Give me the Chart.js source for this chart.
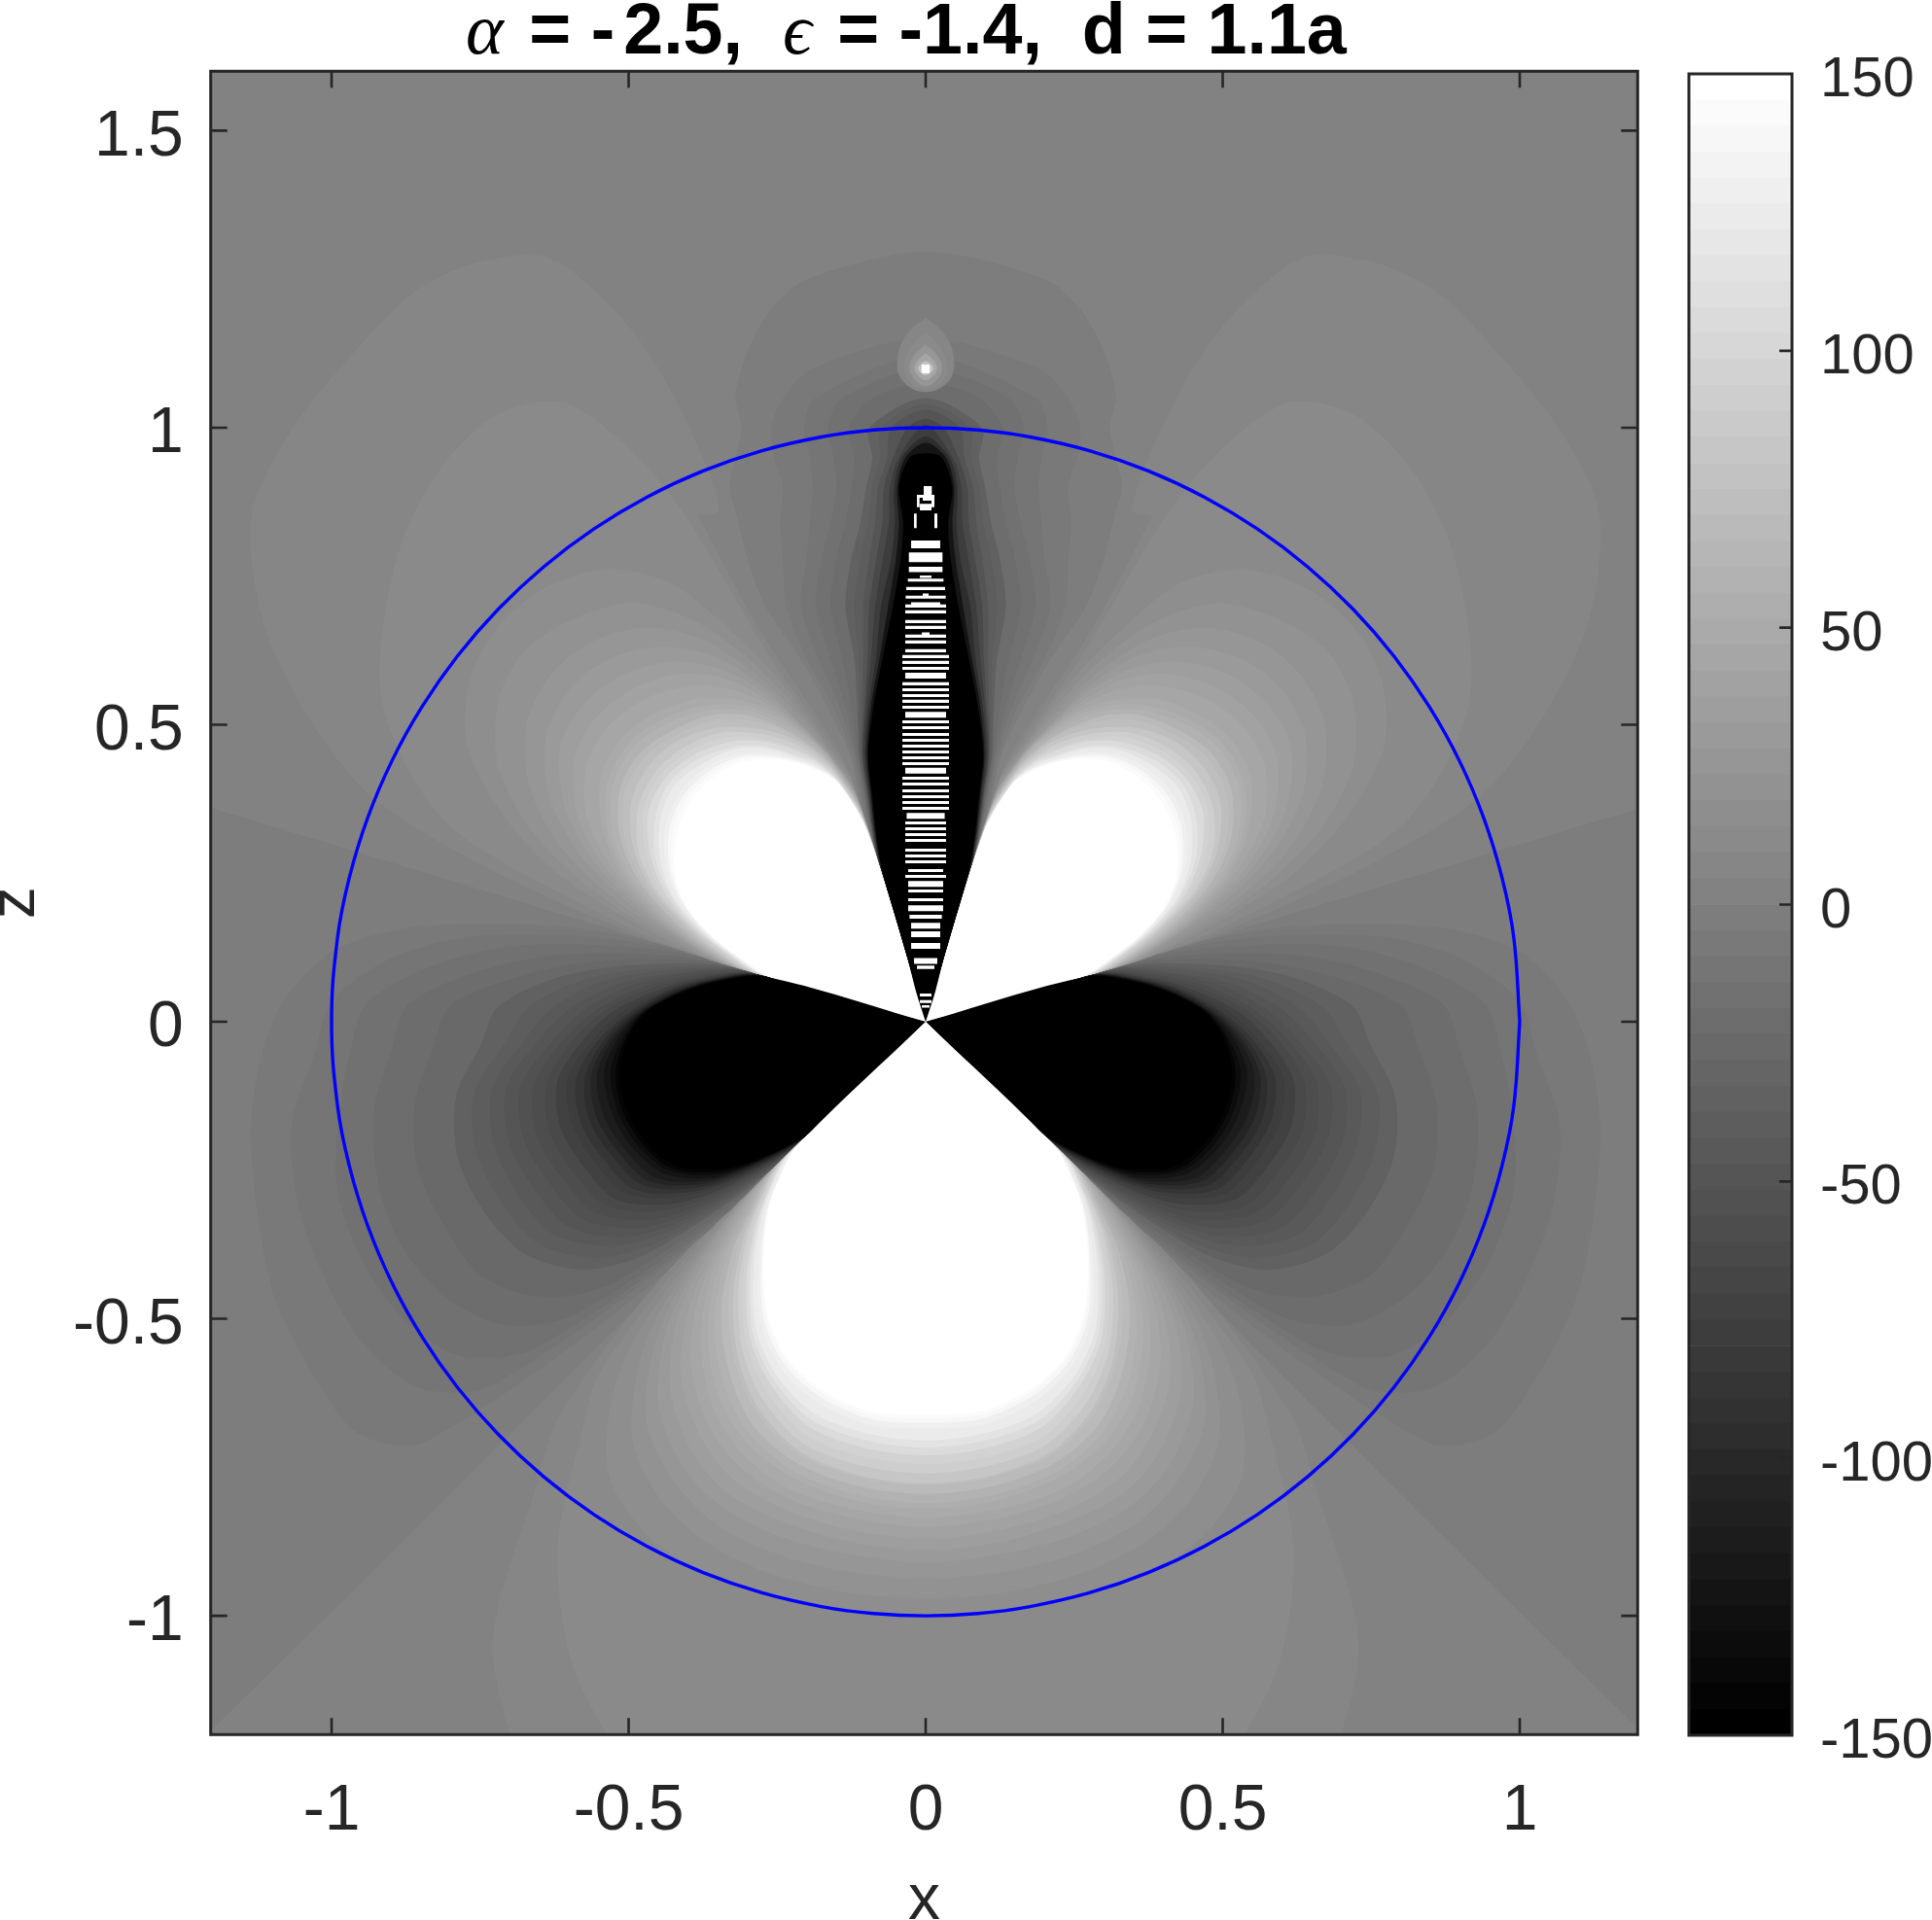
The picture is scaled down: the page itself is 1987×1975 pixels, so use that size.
<!DOCTYPE html>
<html>
<head>
<meta charset="utf-8">
<title>alpha = -2.5, epsilon = -1.4, d = 1.1a</title>
<script src="https://cdn.jsdelivr.net/npm/chart.js@4"></script>
<style>
    html, body { margin: 0; background: #fff; }
    canvas { position: absolute; left: 0; top: 0; }
    #plotTitle {
        position: absolute; left: 479px; top: -12px; white-space: pre; color: #000;
        font: bold 73.6px "Liberation Sans", Arial, sans-serif; line-height: 82px; z-index: 3;
    }
    #plotTitle i { font: italic 74px "Liberation Serif", "DejaVu Serif", serif; margin-right: 6px; }
    #plotTitle b { margin-right: 9px; }
</style>
</head>
<body>
<div id="plotTitle"><i>α</i> = <b>-</b>2.5,  <i>ϵ</i> = -1.4,  d = 1.1a</div>
<canvas id="fieldChart" width="1987" height="1975"></canvas>
<canvas id="barChart" width="1987" height="1975"></canvas>
<script>
// axis ticks
const xTicks = [-1, -0.5, 0, 0.5, 1];
const zTicks = [-1, -0.5, 0, 0.5, 1, 1.5];
const barTicks = [-150, -100, -50, 0, 50, 100, 150];
const backgroundLevel = 2;

// colorbar, lower edge of each of the 64 steps
const barLevels = [-150,-145.3,-140.6,-135.9,-131.25,-126.6,-121.9,-117.2,-112.5,-107.8,-103.1,-98.4,-93.75,-89.1,-84.4,-79.7,
    -75,-70.3,-65.6,-60.9,-56.25,-51.6,-46.9,-42.2,-37.5,-32.8,-28.1,-23.4,-18.75,-14.1,-9.4,-4.7,
    0,4.7,9.4,14.1,18.75,23.4,28.1,32.8,37.5,42.2,46.9,51.6,56.25,60.9,65.6,70.3,
    75,79.7,84.4,89.1,93.75,98.4,103.1,107.8,112.5,117.2,121.9,126.6,131.25,135.9,140.6,145.3];

// upper white lobe: radius of each contour read at these elevations (degrees)
const upperAngles = [16, 19, 22, 26, 31, 37, 43, 49, 55, 60, 64, 67, 70, 73];
const upperLevels = [7, 12, 17, 22, 26, 30, 34, 38, 43, 48, 53, 59, 66, 74, 82, 90, 98, 106, 114, 123, 130, 138, 144, 150];
const upperRadii = [
    [.42, .75, 1.0, 1.15, 1.30, 1.42, 1.46, 1.48, 1.50, 1.48, 1.42, .72, .56, .44],
    [.40, .62, .85, .97, 1.07, 1.14, 1.20, 1.24, 1.25, 1.20, 1.00, .66, .53, .43],
    [.38, .53, .67, .79, .90, .96, .98, .97, .93, .85, .72, .62, .51, .42],
    [.37, .50, .62, .74, .84, .90, .92, .90, .86, .78, .68, .59, .50, .41],
    [.36, .47, .58, .69, .78, .84, .86, .85, .81, .74, .65, .57, .49, .40],
    [.35, .45, .545, .65, .74, .80, .82, .81, .77, .71, .63, .55, .485, .395],
    [.345, .44, .525, .625, .71, .77, .785, .775, .74, .685, .615, .545, .48, .39],
    [.34, .435, .51, .605, .685, .74, .755, .745, .715, .665, .60, .54, .475, .39],
    [.335, .425, .50, .585, .665, .715, .73, .72, .69, .645, .59, .535, .475, .385],
    [.33, .42, .49, .57, .635, .685, .70, .69, .665, .625, .58, .53, .475, .38],
    [.325, .41, .48, .56, .625, .67, .685, .675, .65, .615, .57, .525, .47, .375],
    [.32, .405, .47, .55, .615, .66, .675, .665, .64, .605, .56, .52, .465, .37],
    [.315, .395, .46, .535, .60, .645, .66, .65, .63, .595, .55, .51, .46, .365],
    [.31, .385, .45, .525, .59, .635, .65, .64, .62, .585, .545, .505, .455, .36],
    [.305, .38, .44, .515, .575, .62, .635, .63, .605, .57, .535, .50, .45, .355],
    [.30, .37, .43, .505, .565, .605, .62, .615, .595, .56, .525, .49, .445, .35],
    [.295, .36, .425, .495, .55, .595, .61, .605, .585, .55, .515, .485, .44, .345],
    [.29, .355, .42, .485, .54, .585, .60, .595, .575, .545, .51, .48, .435, .34],
    [.285, .35, .41, .475, .53, .57, .59, .585, .565, .535, .50, .475, .43, .34],
    [.28, .345, .405, .47, .52, .56, .58, .575, .56, .53, .495, .47, .43, .335],
    [.277, .34, .40, .46, .51, .548, .566, .566, .55, .522, .49, .465, .428, .333],
    [.275, .337, .395, .455, .503, .54, .558, .558, .545, .517, .488, .463, .427, .332],
    [.272, .335, .392, .452, .498, .533, .55, .552, .54, .513, .485, .46, .426, .33],
    [.27, .33, .39, .45, .493, .525, .543, .545, .535, .51, .483, .458, .425, .33]
];
// outer cap of the upper lobe above the sphere: elevation, radius
const upperCapLevel = 7;
const upperCap = [[64, .95], [68, .93], [68, 1.15], [66.5, 1.30], [64, 1.42]];

// side dark lobe
const sideAngles = [15.7, 11, 7, 2, -3, -9, -16, -23, -30, -36, -40, -44];
const sideLevels = [-2.5, -7, -12, -16, -21, -26, -33, -38, -44, -49, -54, -60, -65, -72, -79, -88, -97, -106, -115, -124, -132, -141, -150];
const sideRadii = [
    [2.6, 2.6, 2.6, 2.6, 2.6, 2.6, 2.6, 2.6, 2.6, 2.6, 2.6, 2.6],
    [.55, .85, 1.0, 1.08, 1.12, 1.15, 1.17, 1.19, 1.19, 1.18, 1.10, .60],
    [.48, .76, .90, 1.0, 1.03, 1.08, 1.10, 1.10, 1.09, 1.05, .95, .50],
    [.42, .68, .82, .94, .97, 1.00, 1.03, 1.03, 1.01, .96, .85, .46],
    [.38, .60, .74, .87, .90, .94, .96, .96, .93, .87, .76, .42],
    [.36, .54, .67, .80, .83, .87, .89, .88, .86, .79, .68, .38],
    [.34, .50, .62, .72, .75, .80, .82, .81, .78, .71, .60, .35],
    [.33, .47, .58, .67, .71, .77, .787, .777, .75, .675, .565, .34],
    [.325, .45, .55, .63, .68, .74, .755, .745, .72, .64, .53, .33],
    [.32, .43, .52, .60, .655, .715, .73, .717, .692, .615, .505, .32],
    [.315, .42, .50, .575, .63, .69, .705, .69, .665, .59, .48, .31],
    [.31, .405, .48, .555, .612, .667, .682, .667, .642, .565, .46, .305],
    [.305, .395, .465, .54, .595, .645, .66, .645, .62, .54, .44, .30],
    [.302, .385, .45, .525, .577, .627, .64, .625, .60, .52, .425, .295],
    [.30, .38, .44, .51, .56, .61, .62, .605, .58, .50, .41, .29],
    [.297, .375, .435, .497, .55, .595, .605, .59, .565, .487, .40, .285],
    [.295, .37, .43, .49, .54, .58, .59, .575, .55, .475, .39, .28],
    [.292, .367, .425, .485, .532, .57, .577, .562, .537, .465, .38, .275],
    [.29, .365, .42, .48, .525, .56, .565, .55, .525, .455, .37, .27],
    [.287, .362, .417, .477, .518, .548, .55, .538, .51, .447, .365, .267],
    [.285, .36, .415, .475, .51, .537, .54, .528, .50, .437, .36, .265],
    [.282, .357, .412, .472, .505, .528, .532, .52, .493, .428, .355, .262],
    [.28, .355, .41, .47, .50, .522, .525, .513, .485, .42, .35, .26]
];

// bottom white lobe, symmetric about x = 0
const lowerAngles = [-44, -47, -50, -55, -61, -67, -74, -82, -90];
const lowerLevels = [7, 12, 17, 22, 26, 30, 34, 38, 43, 48, 53, 59, 66, 74, 82, 90, 98, 106, 114, 123, 130, 138, 144, 150];
const lowerRadii = [
    [.60, .90, 1.02, 1.27, 1.42, 1.60, 1.70, 1.70, 1.70],
    [.50, .80, .90, 1.08, 1.23, 1.33, 1.42, 1.45, 1.45],
    [.45, .70, .82, .93, .98, 1.0, 1.0, 1.0, 1.0],
    [.42, .64, .75, .86, .92, .95, .965, .97, .97],
    [.41, .60, .71, .82, .88, .915, .93, .935, .937],
    [.40, .57, .68, .785, .85, .885, .90, .905, .91],
    [.392, .54, .65, .75, .82, .86, .875, .885, .89],
    [.385, .51, .615, .72, .79, .835, .855, .865, .87],
    [.377, .49, .59, .69, .765, .81, .835, .845, .85],
    [.37, .47, .565, .66, .74, .79, .82, .83, .835],
    [.365, .455, .545, .64, .72, .77, .80, .815, .82],
    [.36, .44, .525, .62, .70, .755, .79, .805, .81],
    [.355, .43, .507, .60, .68, .74, .775, .79, .795],
    [.35, .42, .49, .58, .66, .72, .76, .775, .78],
    [.345, .412, .477, .565, .65, .712, .755, .772, .777],
    [.34, .405, .465, .55, .635, .695, .74, .755, .76],
    [.335, .397, .455, .537, .622, .68, .725, .74, .745],
    [.33, .39, .445, .525, .61, .665, .71, .725, .73],
    [.325, .385, .437, .515, .60, .655, .697, .712, .717],
    [.32, .38, .43, .505, .59, .645, .685, .70, .705],
    [.31, .37, .42, .49, .575, .63, .665, .685, .685],
    [.305, .365, .415, .482, .565, .62, .655, .675, .675],
    [.302, .362, .413, .478, .558, .613, .648, .668, .667],
    [.30, .36, .41, .475, .553, .608, .643, .662, .661]
];

// central dark lobe: half width of each contour at these heights, then each contour's top
const centerHeights = [0, .05, .105, .16, .214, .268, .324, .38, .45, .53, .61, .70, .78, .84, .90, .95, 1.0, 1.05, 1.10, 1.15, 1.2, 1.25];
const centerLevels = [-3, -7, -12, -16, -21, -33, -40, -50, -65, -79, -97, -125, -150];
const centerTops = [1.296, 1.15, 1.12, 1.10, 1.075, 1.05, 1.04, 1.03, 1.015, 1.005, .985, .975, .957];
const centerWidths = [
    [0, .02, .036, .054, .07, .084, .098, .112, .128, .165, .21, .27, .30, .315, .33, .32, .31, .32, .31, .29, .26, .2],
    [0, .02, .036, .053, .069, .083, .097, .11, .125, .155, .20, .235, .24, .245, .24, .255, .26, .24, .19],
    [0, .02, .036, .052, .069, .083, .095, .107, .12, .145, .18, .21, .20, .195, .19, .195, .205, .185],
    [0, .019, .035, .052, .068, .082, .094, .105, .118, .135, .16, .185, .175, .16, .15, .155, .165, .14],
    [0, .019, .035, .051, .068, .082, .093, .103, .115, .125, .14, .16, .15, .135, .125, .12, .13, .09],
    [0, .018, .034, .051, .067, .081, .092, .101, .112, .115, .12, .135, .125, .11, .10, .09, .095],
    [0, .018, .034, .05, .066, .08, .091, .0995, .11, .111, .112, .12, .11, .097, .09, .077, .075],
    [0, .018, .034, .05, .066, .08, .09, .098, .108, .107, .105, .105, .095, .085, .08, .065, .058],
    [0, .0175, .0335, .0495, .0655, .0795, .0895, .097, .1065, .103, .098, .095, .083, .073, .07, .055, .03],
    [0, .017, .033, .049, .065, .079, .089, .096, .105, .10, .092, .085, .072, .062, .06, .045],
    [0, .017, .032, .048, .064, .078, .087, .094, .102, .096, .084, .075, .058, .052, .053, .04],
    [0, .0165, .031, .047, .063, .077, .086, .092, .099, .092, .078, .063, .05, .045, .048, .034],
    [0, .016, .03, .046, .062, .076, .084, .09, .097, .088, .073, .055, .042, .038, .045, .027]
];

// bright spot above the sphere, contour points for the right side
const spotLevels = [5, 12, 25, 45, 75, 150];
const spotPoints = [
    [[0, 1.185], [.03, 1.16], [.047, 1.12], [.04, 1.08], [0, 1.06]],
    [[0, 1.16], [.022, 1.14], [.035, 1.11], [.03, 1.08], [0, 1.065]],
    [[0, 1.14], [.017, 1.125], [.027, 1.105], [.022, 1.085], [0, 1.07]],
    [[0, 1.125], [.012, 1.115], [.019, 1.102], [.015, 1.09], [0, 1.08]],
    [[0, 1.113], [.008, 1.108], [.013, 1.1], [.009, 1.093], [0, 1.088]],
    [[0, 1.106], [.006, 1.106], [.007, 1.099], [.006, 1.092], [0, 1.092]]
];

// white rows inside the central lobe: height, half width, thickness
const stripeRows = [
    [.8035,.0245,.013],[.7817,.0283,.0164],[.7614,.0283,.0087],[.749,.0098,.004],[.7434,.030,.005],[.7293,.0327,.005],
    [.7189,.005,.004],[.7146,.0337,.005],[.7036,.0245,.005],[.6998,.0343,.005],[.69,.0343,.005],[.6736,.0343,.005],
    [.6638,.0343,.005],[.6533,.0065,.004],[.6491,.0343,.005],[.6393,.0343,.005],[.6245,.0343,.005],[.6147,.0392,.005],
    [.6049,.0392,.005],[.595,.0392,.005],[.5825,.0343,.0098],[.5689,.0392,.005],[.559,.0392,.005],[.5492,.0392,.005],
    [.5394,.0392,.005],[.5295,.0392,.005],[.5169,.0343,.0098],[.505,.0392,.005],[.4952,.0392,.005],[.4837,.0392,.005],
    [.4739,.0392,.005],[.4641,.0392,.005],[.4542,.0392,.005],[.4444,.0392,.005],[.4346,.0392,.005],[.4225,.0343,.0098],
    [.41,.0392,.005],[.4002,.0392,.005],[.3887,.0392,.005],[.3789,.0392,.005],[.3691,.0392,.005],[.3593,.0392,.005],
    [.3466,.032,.0098],[.3347,.0343,.005],[.3249,.0343,.005],[.315,.0343,.005],[.3052,.0343,.005],[.2888,.0343,.005],
    [.279,.0343,.005],[.2692,.0343,.005],[.2545,.0294,.005],[.2446,.0343,.005],[.232,.0294,.0098],[.2201,.0294,.005],
    [.2053,.0294,.005],[.1911,.0294,.0098],[.1768,.0272,.0065],[.1616,.0245,.0098],[.1474,.0245,.0098],[.1277,.0245,.0098],
    [.1022,.0196,.01],[.0917,.0147,.006],[.0449,.0098,.005],[.0339,.0098,.005],[.0257,.0065,.004]
];
// small white pieces at the head of the lobe: x from, x to, z from, z to
const headCells = [
    [-.0033,.0103,.887,.9017],[-.0147,.0147,.882,.887],[-.005,.01,.877,.882],[-.0147,-.0103,.866,.887],[.0098,.0147,.866,.887],
    [-.0098,.0098,.861,.872],[-.0196,-.0152,.8308,.8554],[.0147,.0196,.8308,.8554]
];

// sphere outline, first quadrant
const sphereX = [1, .99, .9703, .9397, .8988, .848, .788, .7193, .6428, .5592, .4695, .3746, .2756, .1736, .0872, 0];
const sphereZ = [0, .1414, .2419, .342, .4384, .5299, .6157, .6947, .766, .829, .8829, .9272, .9613, .9848, .9962, 1];

const inkColor = '#262626';
const fontFamily = '"Liberation Sans", Arial, sans-serif';

function levelColor(v) {
    const i = Math.min(63, Math.max(0, Math.floor((v + 150) / 300 * 64)));
    const g = Math.round(i / 63 * 255);
    return `rgb(${g},${g},${g})`;
}

function polar(deg, r) {
    const a = deg * Math.PI / 180;
    return { x: r * Math.cos(a), y: r * Math.sin(a) };
}

function shape(points, color, tension = 0) {
    return { data: points, showLine: true, fill: 'shape', backgroundColor: color, borderWidth: 0, pointRadius: 0, tension };
}

const flip = (pts) => pts.map((p) => ({ x: -p.x, y: p.y }));
const mirrored = (right) => [...right, ...flip(right).reverse().slice(1)];
const origin = { x: 0, y: 0 };

const contours = [];
upperLevels.forEach((v, i) => {
    const pts = [origin, ...upperAngles.map((a, j) => polar(a, upperRadii[i][j])), origin];
    contours.push({ v, pts }, { v, pts: flip(pts) });
});
const capPts = upperCap.map((p) => polar(p[0], p[1]));
contours.push({ v: upperCapLevel, pts: [...capPts, capPts[0]] }, { v: upperCapLevel, pts: flip([...capPts, capPts[0]]) });
sideLevels.forEach((v, i) => {
    const pts = [origin, ...sideAngles.map((a, j) => polar(a, sideRadii[i][j])), origin];
    contours.push({ v, pts }, { v, pts: flip(pts) });
});
lowerLevels.forEach((v, i) => {
    const right = lowerAngles.map((a, j) => polar(a, lowerRadii[i][j]));
    contours.push({ v, pts: [origin, ...mirrored(right), origin] });
});
centerLevels.forEach((v, i) => {
    const right = centerWidths[i].map((w, j) => ({ x: w, y: centerHeights[j] }));
    contours.push({ v, pts: mirrored([...right, { x: 0, y: centerTops[i] }]) });
});
// strongest contours are painted last
contours.sort((a, b) => Math.abs(a.v) - Math.abs(b.v));

const rect = (x1, x2, z1, z2) => [{ x: x1, y: z1 }, { x: x2, y: z1 }, { x: x2, y: z2 }, { x: x1, y: z2 }, { x: x1, y: z1 }];

const paintOrder = [
    shape(rect(-3, 3, -3, 3), levelColor(backgroundLevel)),
    ...contours.map((c) => shape(c.pts, levelColor(c.v), 0.3)),
    ...spotLevels.map((v, i) => shape(mirrored(spotPoints[i].map((p) => ({ x: p[0], y: p[1] }))), levelColor(v), 0.4)),
    ...stripeRows.map((s) => shape(rect(-s[1], s[1], s[0] - s[2] / 2, s[0] + s[2] / 2), '#fff')),
    ...headCells.map((c) => shape(rect(c[0], c[1], c[2], c[3]), '#fff'))
];

const q1 = sphereX.map((x, i) => ({ x, y: sphereZ[i] }));
const upperHalf = mirrored(q1);
const sphere = [...upperHalf, ...upperHalf.slice(0, -1).reverse().map((p) => ({ x: p.x, y: -p.y }))];
paintOrder.push({ data: sphere, showLine: true, fill: false, borderColor: '#0000ff', borderWidth: 3.4, pointRadius: 0, tension: 0.4 });

const tickFont = { family: fontFamily, size: 66 };

// box and inward ticks on all four sides, like the original axes
const boxTicks = {
    id: 'boxTicks',
    afterDraw(chart) {
        const { ctx, chartArea: a, scales } = chart;
        ctx.save();
        ctx.strokeStyle = inkColor;
        ctx.lineWidth = 2.6;
        ctx.beginPath();
        if (scales.x.type === 'linear') {
            xTicks.forEach((v) => {
                const p = scales.x.getPixelForValue(v);
                ctx.moveTo(p, a.bottom); ctx.lineTo(p, a.bottom - 17);
                ctx.moveTo(p, a.top); ctx.lineTo(p, a.top + 17);
            });
            zTicks.forEach((v) => {
                const p = scales.y.getPixelForValue(v);
                ctx.moveTo(a.left, p); ctx.lineTo(a.left + 17, p);
                ctx.moveTo(a.right, p); ctx.lineTo(a.right - 17, p);
            });
        } else {
            barTicks.slice(1, -1).forEach((v) => {
                const p = scales.y.getPixelForValue(v);
                ctx.moveTo(a.right, p); ctx.lineTo(a.right - 13, p);
            });
        }
        ctx.stroke();
        ctx.lineWidth = 3;
        ctx.strokeRect(a.left, a.top, a.right - a.left, a.bottom - a.top);
        ctx.restore();
    }
};

new Chart(document.getElementById('fieldChart'), {
    type: 'scatter',
    data: { datasets: paintOrder.reverse() }, // first dataset ends up on top
    plugins: [boxTicks],
    options: {
        responsive: false,
        animation: false,
        events: [],
        layout: { padding: { left: 0, top: 73.3, right: 302.7, bottom: 0 } },
        plugins: { legend: { display: false }, tooltip: { enabled: false } },
        scales: {
            x: {
                type: 'linear', min: -1.2035, max: 1.1985,
                afterFit: (s) => { s.height = 190.7; },
                afterBuildTicks: (s) => { s.ticks = xTicks.map((value) => ({ value })); },
                grid: { display: false }, border: { display: false },
                ticks: { font: tickFont, color: inkColor, padding: 32, maxRotation: 0, autoSkip: false, callback: (v) => String(v) },
                title: { display: true, text: 'x', font: tickFont, color: inkColor, padding: { top: 0, bottom: -20 } }
            },
            y: {
                type: 'linear', min: -1.2, max: 1.6,
                afterFit: (s) => { s.width = 216.7; },
                afterBuildTicks: (s) => { s.ticks = zTicks.map((value) => ({ value })); },
                grid: { display: false }, border: { display: false },
                ticks: { font: tickFont, color: inkColor, padding: 20, labelOffset: 7, autoSkip: false, callback: (v) => String(v) },
                title: { display: true, text: 'z', font: tickFont, color: inkColor, padding: { top: -23, bottom: 0 } }
            }
        }
    }
});

new Chart(document.getElementById('barChart'), {
    type: 'bar',
    data: {
        labels: ['value'],
        datasets: barLevels.map((lo, i) => ({
            data: [[lo, i < barLevels.length - 1 ? barLevels[i + 1] : 150]],
            backgroundColor: `rgb(${Math.round(i / 63 * 255)},${Math.round(i / 63 * 255)},${Math.round(i / 63 * 255)})`,
            borderWidth: 0, barPercentage: 1, categoryPercentage: 1, grouped: false
        }))
    },
    plugins: [boxTicks],
    options: {
        responsive: false,
        animation: false,
        events: [],
        layout: { padding: { left: 1737, top: 76, right: 0, bottom: 190 } },
        plugins: { legend: { display: false }, tooltip: { enabled: false } },
        scales: {
            x: { display: false },
            y: {
                position: 'right', min: -150, max: 150,
                afterFit: (s) => { s.width = 144; },
                afterBuildTicks: (s) => { s.ticks = barTicks.map((value) => ({ value })); },
                grid: { display: false }, border: { display: false },
                ticks: { font: { family: fontFamily, size: 58 }, color: inkColor, padding: 21, labelOffset: 7, autoSkip: false, callback: (v) => String(v) }
            }
        }
    }
});
</script>
</body>
</html>
